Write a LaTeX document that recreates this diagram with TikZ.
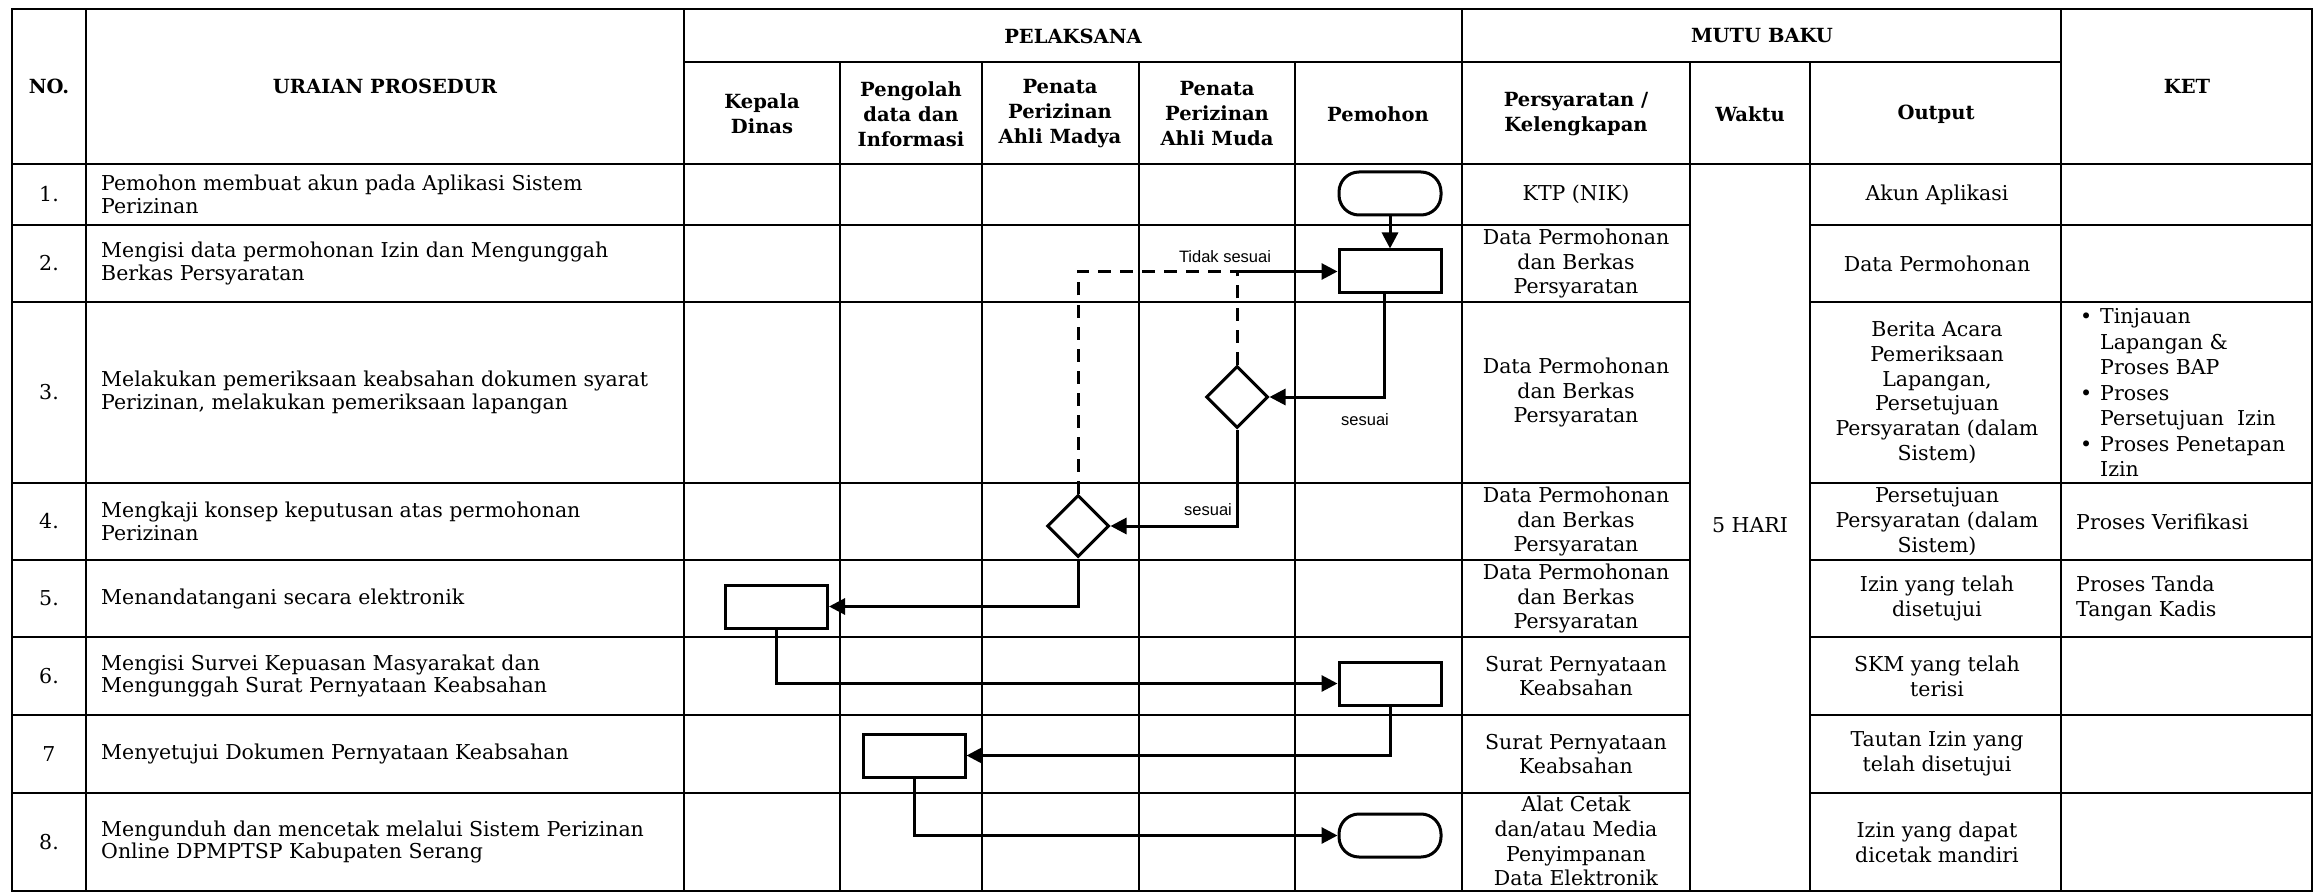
\documentclass[tikz,border=0pt]{standalone}
\usepackage{fontspec}
\setmainfont{DejaVu Serif}
\newfontfamily\lblfont{Liberation Sans}
\usetikzlibrary{arrows.meta,shapes.geometric}
\begin{document}
\begin{tikzpicture}[x=1pt,y=-1pt,
  grid/.style={line width=2.7pt,line cap=rect},
  txt/.style={font=\fontsize{20.5}{24.8}\selectfont,align=center,inner sep=0pt},
  urt/.style={font=\fontsize{20.5}{22.5}\selectfont,align=left,anchor=west,inner sep=0pt},
  ket/.style={font=\fontsize{20.5}{25.5}\selectfont,align=left,anchor=west,inner sep=0pt},
  hdr/.style={font=\bfseries\fontsize{19.5}{25}\selectfont,align=center,inner sep=0pt},
  proc/.style={draw,line width=3pt,minimum width=102pt,minimum height=43pt,inner sep=0pt},
  term/.style={proc,rounded corners=20pt},
  dec/.style={draw,diamond,line width=3pt,minimum width=62pt,minimum height=62pt,inner sep=0pt},
  flow/.style={line width=3pt,-{Triangle[length=16pt,width=16pt]}},
  dashln/.style={line width=3pt,dash pattern=on 13pt off 9pt},
  lbl/.style={font=\lblfont\fontsize{16.5}{18}\selectfont,inner sep=0pt}]
\useasboundingbox[fill=white] (0,0) rectangle (2323,893);

% ---------- grid ----------
\draw[grid] (12,9) rectangle (2312,891);
\draw[grid] (684,62) -- (2061,62);
\draw[grid] (12,164) -- (2312,164);
\foreach \y in {225,302,483,560,637,715,793}{
  \draw[grid] (12,\y) -- (1690,\y);
  \draw[grid] (1810,\y) -- (2312,\y);
}
\foreach \x in {86,684,1462,2061}{\draw[grid] (\x,9) -- (\x,891);}
\foreach \x in {840,982,1139,1295,1690,1810}{\draw[grid] (\x,62) -- (\x,891);}

% ---------- headers ----------
\node[hdr] (hno) at (49,86) {NO.};
\node[hdr] (hur) at (385,86) {URAIAN PROSEDUR};
\node[hdr] (hpl) at (1073,36) {PELAKSANA};
\node[hdr] (hkd) at (762,114) {Kepala\\Dinas};
\node[hdr] (hpd) at (911,114) {Pengolah\\data dan\\Informasi};
\node[hdr] (hma) at (1060,114) {Penata\\Perizinan\\Ahli Madya};
\node[hdr] (hmu) at (1217,114) {Penata\\Perizinan\\Ahli Muda};
\node[hdr] (hpm) at (1378,114) {Pemohon};
\node[hdr] (hmb) at (1762,36) {MUTU BAKU};
\node[hdr] (hps) at (1576,114) {Persyaratan /\\Kelengkapan};
\node[hdr] (hwk) at (1750,114) {Waktu};
\node[hdr] (hop) at (1936,114) {Output};
\node[hdr] (hke) at (2187,86) {KET};

% ---------- numbers ----------
\node[txt] (n1) at (49,194.5) {1.};
\node[txt] (n2) at (49,263.5) {2.};
\node[txt] (n3) at (49,392.5) {3.};
\node[txt] (n4) at (49,521.5) {4.};
\node[txt] (n5) at (49,598.5) {5.};
\node[txt] (n6) at (49,676) {6.};
\node[txt] (n7) at (49,754) {7};
\node[txt] (n8) at (49,842) {8.};

% ---------- uraian ----------
\node[urt] (u1) at (101,194.5) {Pemohon membuat akun pada Aplikasi Sistem\\Perizinan};
\node[urt] (u2) at (101,263.5) {Mengisi data permohonan Izin dan Mengunggah\\Berkas Persyaratan};
\node[urt] (u3) at (101,392.5) {Melakukan pemeriksaan keabsahan dokumen syarat\\Perizinan, melakukan pemeriksaan lapangan};
\node[urt] (u4) at (101,521.5) {Mengkaji konsep keputusan atas permohonan\\Perizinan};
\node[urt] (u5) at (101,598.5) {Menandatangani secara elektronik};
\node[urt] (u6) at (101,676) {Mengisi Survei Kepuasan Masyarakat dan\\Mengunggah Surat Pernyataan Keabsahan};
\node[urt] (u7) at (101,754) {Menyetujui Dokumen Pernyataan Keabsahan};
\node[urt] (u8) at (101,842) {Mengunduh dan mencetak melalui Sistem Perizinan\\Online DPMPTSP Kabupaten Serang};

% ---------- persyaratan ----------
\node[txt] (p1) at (1576,194.5) {KTP (NIK)};
\node[txt] (p2) at (1576,263.5) {Data Permohonan\\dan Berkas\\Persyaratan};
\node[txt] (p3) at (1576,392.5) {Data Permohonan\\dan Berkas\\Persyaratan};
\node[txt] (p4) at (1576,521.5) {Data Permohonan\\dan Berkas\\Persyaratan};
\node[txt] (p5) at (1576,598.5) {Data Permohonan\\dan Berkas\\Persyaratan};
\node[txt] (p6) at (1576,676) {Surat Pernyataan\\Keabsahan};
\node[txt] (p7) at (1576,754) {Surat Pernyataan\\Keabsahan};
\node[txt] (p8) at (1576,841) {Alat Cetak\\dan/atau Media\\Penyimpanan\\Data Elektronik};

% ---------- waktu ----------
\node[txt] (wk) at (1750,525) {5 HARI};

% ---------- output ----------
\node[txt] (o1) at (1937,194.5) {Akun Aplikasi};
\node[txt] (o2) at (1937,263.5) {Data Permohonan};
\node[txt] (o3) at (1937,392.5) {Berita Acara\\Pemeriksaan\\Lapangan,\\Persetujuan\\Persyaratan (dalam\\Sistem)};
\node[txt] (o4) at (1937,521.5) {Persetujuan\\Persyaratan (dalam\\Sistem)};
\node[txt] (o5) at (1937,598.5) {Izin yang telah\\disetujui};
\node[txt] (o6) at (1937,676) {SKM yang telah\\terisi};
\node[txt] (o7) at (1937,754) {Tautan Izin yang\\telah disetujui};
\node[txt] (o8) at (1937,842) {Izin yang dapat\\dicetak mandiri};

% ---------- ket ----------
\node[ket] (k3) at (2080,392.5) {\makebox[20pt][l]{\textbullet}Tinjauan\\\hspace*{20pt}Lapangan \&\\\hspace*{20pt}Proses BAP\\\makebox[20pt][l]{\textbullet}Proses\\\hspace*{20pt}Persetujuan\ \ Izin\\\makebox[20pt][l]{\textbullet}Proses Penetapan\\\hspace*{20pt}Izin};
\node[ket] (k4) at (2076,521.5) {Proses Verifikasi};
\node[ket] (k5) at (2076,598.5) {Proses Tanda\\Tangan Kadis};

% ---------- flow shapes ----------
\node[term] (t1) at (1390,193.5) {};
\node[proc] (b2) at (1390,271.5) {};
\node[dec]  (mu) at (1237,397) {};
\node[dec]  (md) at (1078,526) {};
\node[proc] (b5) at (776.5,606.5) {};
\node[proc] (b6) at (1390,683.5) {};
\node[proc] (b7) at (914,755.5) {};
\node[term] (t8) at (1390,835.5) {};

\coordinate (jn) at (mu.north |- b2.west);

% ---------- connectors ----------
\draw[flow] (t1.south) -- (b2.north);
\draw[dashln] (md.north) |- (jn);
\draw[dashln] (mu.north) -- (jn);
\draw[flow] (jn) -- (b2.west);
\draw[flow] ([xshift=-6pt]b2.south) |- (mu.east);
\draw[flow] (mu.south) |- (md.east);
\draw[flow] (md.south) |- (b5.east);
\draw[flow] (b5.south) |- (b6.west);
\draw[flow] (b6.south) |- (b7.east);
\draw[flow] (b7.south) |- (t8.west);

% ---------- labels ----------
\node[lbl] (ltd) at (1225,257) {Tidak sesuai};
\node[lbl] (ls1) at (1365,420) {sesuai};
\node[lbl] (ls2) at (1208,510) {sesuai};
\end{tikzpicture}
\end{document}
